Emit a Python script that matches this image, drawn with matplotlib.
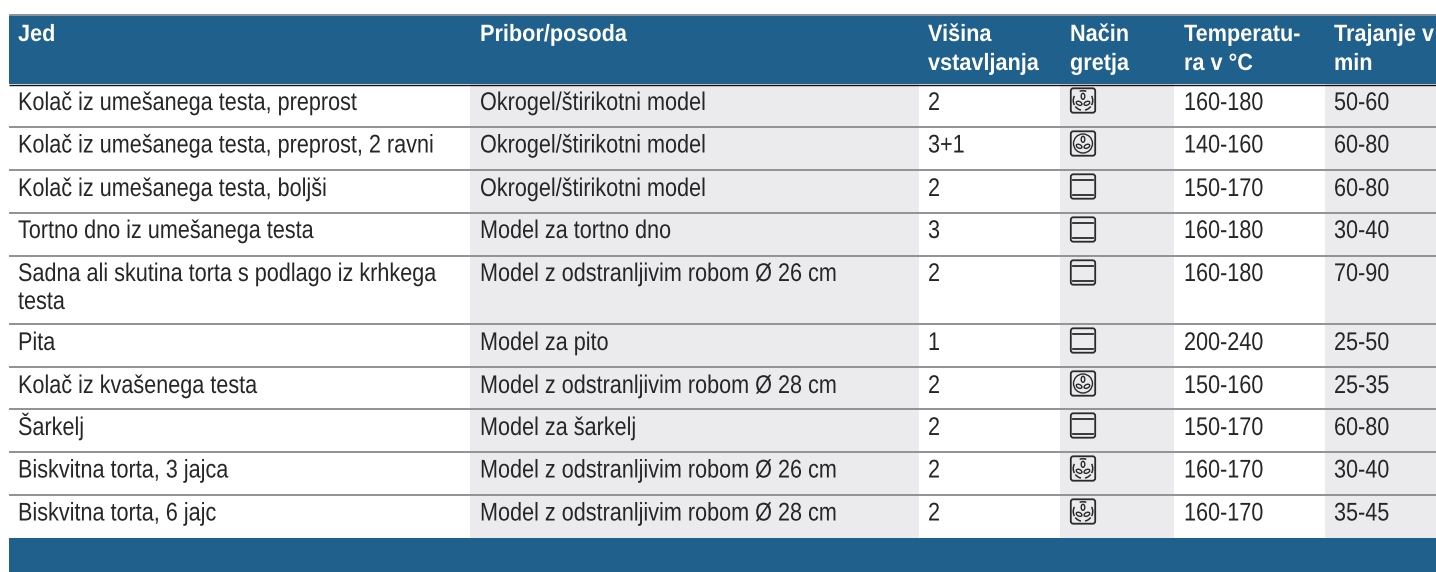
import matplotlib
matplotlib.use("Agg")
import matplotlib.pyplot as plt
from matplotlib.patches import Rectangle, FancyBboxPatch, Circle, Ellipse, Arc
from matplotlib.patheffects import AbstractPathEffect
from matplotlib.transforms import Affine2D

# --- table content ---
headers = [["Jed"], ["Pribor/posoda"], ["Višina", "vstavljanja"], ["Način", "gretja"],
           ["Temperatu-", "ra v °C"], ["Trajanje v", "min"]]
jed = [["Kolač iz umešanega testa, preprost"],
       ["Kolač iz umešanega testa, preprost, 2 ravni"],
       ["Kolač iz umešanega testa, boljši"],
       ["Tortno dno iz umešanega testa"],
       ["Sadna ali skutina torta s podlago iz krhkega", "testa"],
       ["Pita"],
       ["Kolač iz kvašenega testa"],
       ["Šarkelj"],
       ["Biskvitna torta, 3 jajca"],
       ["Biskvitna torta, 6 jajc"]]
pribor = ["Okrogel/štirikotni model", "Okrogel/štirikotni model", "Okrogel/štirikotni model",
          "Model za tortno dno", "Model z odstranljivim robom Ø 26 cm", "Model za pito",
          "Model z odstranljivim robom Ø 28 cm", "Model za šarkelj",
          "Model z odstranljivim robom Ø 26 cm", "Model z odstranljivim robom Ø 28 cm"]
visina = ["2", "3+1", "2", "3", "2", "1", "2", "2", "2", "2"]
nacin = ["fan_dash", "fan_ring", "box", "box", "box", "box", "fan_ring", "box", "fan_dash", "fan_dash"]
temperatura = ["160-180", "140-160", "150-170", "160-180", "160-180", "200-240",
               "150-160", "150-170", "160-170", "160-170"]
trajanje = ["50-60", "60-80", "60-80", "30-40", "70-90", "25-50", "25-35", "60-80", "30-40", "35-45"]

# --- layout in pixels ---
W, H = 1436, 572
col_x = [18, 480, 928, 1070, 1184, 1334]
shaded = [(470, 919), (1060, 1174), (1325, 1436)]
row_edges = [84, 127, 170, 213, 256, 324, 367, 409, 452, 495, 538]
baselines = [110, 152.5, 196, 238, 281, 350, 393, 435, 477.5, 520.5]
BLUE, GREY, LINE, INK = "#20608c", "#ebebed", "#8f9396", "#262626"
FAM = ["Liberation Sans"]
FS, SX = 18.4, 0.846
FSH, SXH = 17.0, 0.918


class Condense(AbstractPathEffect):
    """Squeezes a text horizontally about its left anchor, as the condensed face of the original."""

    def __init__(self, x0, sx):
        super().__init__()
        self.x0, self.sx = x0, sx

    def draw_path(self, renderer, gc, tpath, affine, rgbFace=None):
        squeeze = Affine2D().translate(-self.x0, 0).scale(self.sx, 1).translate(self.x0, 0)
        renderer.draw_path(gc, tpath, affine + squeeze, rgbFace)


fig = plt.figure(figsize=(W / 100, H / 100), dpi=100)
ax = fig.add_axes([0, 0, 1, 1])
ax.set_xlim(0, W)
ax.set_ylim(H, 0)
ax.axis("off")

for x0, x1 in shaded:
    ax.add_patch(Rectangle((x0, 84), x1 - x0, 454, fc=GREY, ec="none", zorder=1))
ax.add_patch(Rectangle((9, 15), W - 9, 69, fc=BLUE, ec="none", zorder=2))
ax.add_patch(Rectangle((9, 538), W - 9, 34, fc=BLUE, ec="none", zorder=2))
ax.plot([9, W], [14.5, 14.5], color=LINE, lw=1.4, zorder=3, solid_capstyle="butt")
ax.plot([9, W], [84.5, 84.5], color="#111111", lw=1.0, zorder=3, solid_capstyle="butt")
for y in row_edges[1:-1]:
    ax.plot([9, W], [y, y], color=LINE, lw=1.4, zorder=3, solid_capstyle="butt")


def put(x, y, s, size, sx, **kw):
    ax.text(x, y, s, family=FAM, va="baseline", ha="left", zorder=5, fontsize=size,
            path_effects=[Condense(x, sx)], **kw)


for x, lines in zip(col_x, headers):
    for k, s in enumerate(lines):
        put(x, 41 + 29 * k, s, FSH, SXH, color="white", fontweight="bold")


def icon(kind, x, y):
    ic = "#2a2a2a"
    kw = dict(fc="none", ec=ic, zorder=5)
    ax.add_patch(FancyBboxPatch((x + 0.8, y + 0.8), 24.4, 24.4,
                                boxstyle="round,pad=0,rounding_size=2.5", lw=1.3, **kw))
    cx, cy = x + 13, y + 13
    if kind == "box":
        for dy in (6, 21):
            ax.plot([x + 3, x + 23], [y + dy, y + dy], color=ic, lw=1.3, zorder=5)
        return
    for dx, dy, ang in [(0, -4.2, 90), (-3.9, 2.8, 25), (3.9, 2.8, 155)]:
        ax.add_patch(Ellipse((cx + dx, cy + dy), 6.0, 3.6, angle=ang, lw=1.0, **kw))
    if kind == "fan_ring":
        ax.add_patch(Circle((cx, cy), 9.5, lw=1.0, **kw))
    else:
        for a, half in [(90, 20), (180, 28), (0, 28), (238, 20), (302, 20)]:
            ax.add_patch(Arc((cx, cy), 19.5, 19.5, theta1=-a - half, theta2=-a + half, lw=1.1, ec=ic, zorder=5))


for i in range(len(jed)):
    base = baselines[i]
    for k, s in enumerate(jed[i]):
        put(col_x[0], base + 28 * k, s, FS, SX, color=INK)
    put(col_x[1], base, pribor[i], FS, SX, color=INK)
    put(col_x[2], base, visina[i], FS, SX, color=INK)
    icon(nacin[i], 1070, row_edges[i] + 3.5)
    put(col_x[4], base, temperatura[i], FS, SX, color=INK)
    put(col_x[5], base, trajanje[i], FS, SX, color=INK)

fig.savefig("out.png", dpi=100)
